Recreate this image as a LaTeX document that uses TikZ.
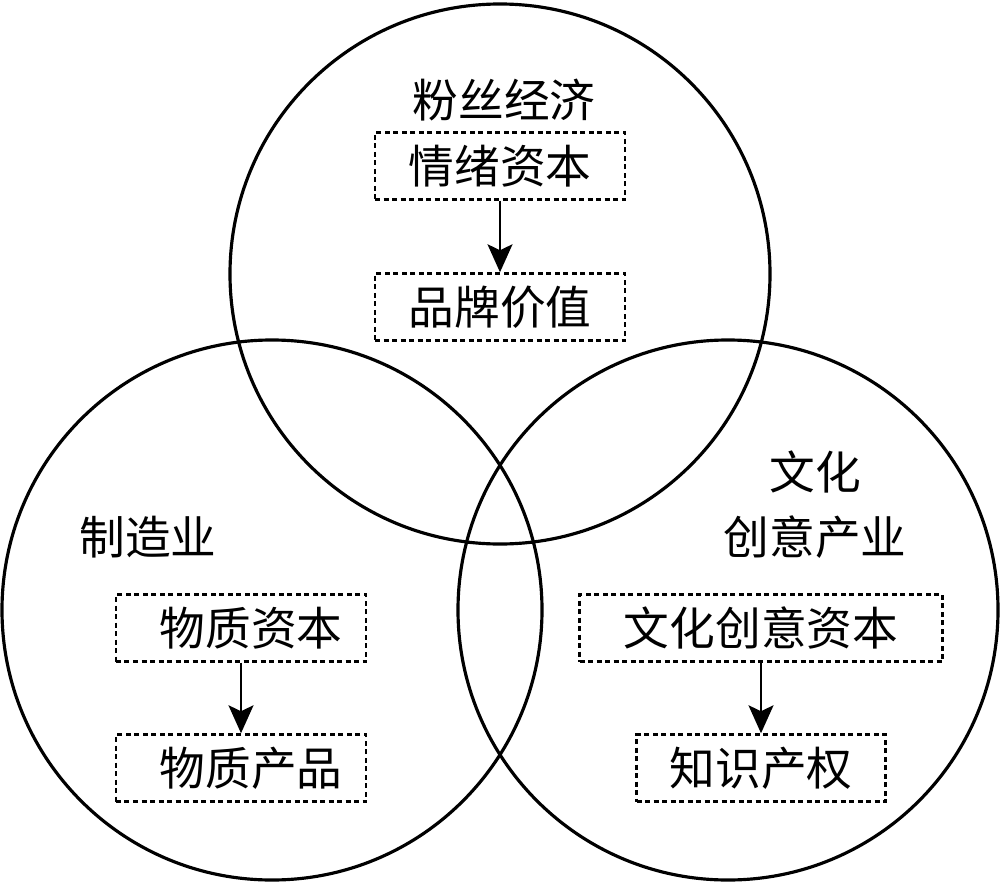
\documentclass[tikz,border=0pt]{standalone}
\usepackage{fontspec}
\setmainfont{Noto Sans CJK SC}
\usetikzlibrary{arrows.meta}

\begin{document}
\begin{tikzpicture}[x=0.2mm,y=-0.2mm,
  every node/.style={font=\fontsize{26pt}{31pt}\selectfont},
  ring/.style={line width=1.8pt},
  capbox/.style={draw,dash pattern=on 1mm off 0.7mm,line width=1.4pt,minimum height=13.4mm,inner sep=0pt},
  flow/.style={-{Stealth[length=5.6mm,width=5mm,inset=1.2mm]},line width=1.2pt}]
\useasboundingbox (0,0) rectangle (1000,886);
% three fields
\draw[ring] (500,274) circle (54mm);
\draw[ring] (272,610) circle (54mm);
\draw[ring] (728,610) circle (54mm);
% fan economy
\node (fan) at (504,100) {粉丝经济};
\node[capbox,minimum width=50mm] (emo) at (500,166) {情绪资本};
\node[capbox,minimum width=50mm] (brand) at (500,307) {品牌价值};
\draw[flow] (emo) -- (brand);
% manufacturing
\node (make) at (148,537) {制造业};
\node[capbox,minimum width=50mm] (mat) at (241,628) {\hspace{4mm}物质资本};
\node[capbox,minimum width=50mm] (prod) at (241,768) {\hspace{4mm}物质产品};
\draw[flow] (mat) -- (prod);
% cultural creative industry
\node (cul) at (815,472) {文化};
\node (ind) at (815,537) {创意产业};
\node[capbox,minimum width=72.6mm] (cc) at (761,628) {文化创意资本};
\node[capbox,minimum width=49.8mm] (ip) at (761,768) {知识产权};
\draw[flow] (cc) -- (ip);
\end{tikzpicture}
\end{document}
